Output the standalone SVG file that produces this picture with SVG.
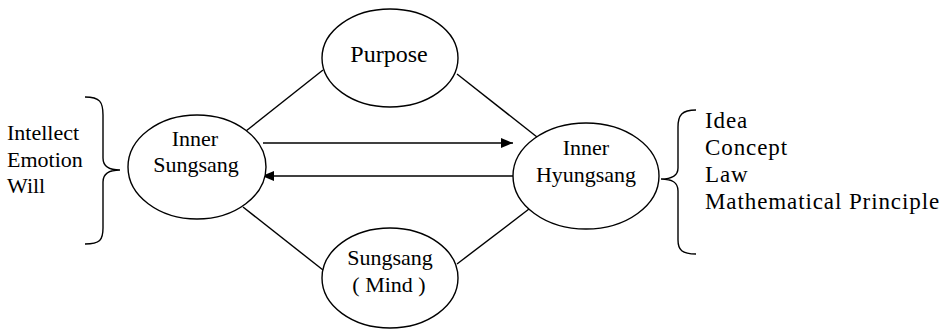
<svg xmlns="http://www.w3.org/2000/svg" width="942" height="331" viewBox="0 0 942 331">
<style>
.n{fill:#fff;stroke:#000;stroke-width:1.4}
.c{stroke:#000;stroke-width:1.4;fill:none}
.t{font-family:"Liberation Serif","Times New Roman",serif;font-size:22px;fill:#000}
.m{text-anchor:middle}
.r{font-size:23px;letter-spacing:0.9px}
</style>
<defs>
<marker id="ah" viewBox="0 0 12 10" refX="12" refY="5" markerWidth="12" markerHeight="10" markerUnits="userSpaceOnUse" orient="auto">
<path d="M0,0 L12,5 L0,10 Z" fill="#000"/>
</marker>
</defs>
<rect width="942" height="331" fill="#fff"/>
<g id="connectors">
<line class="c" x1="246" y1="131" x2="323" y2="70"/>
<line class="c" x1="457" y1="74" x2="537" y2="137"/>
<line class="c" x1="243" y1="207" x2="323" y2="270"/>
<line class="c" x1="457" y1="264" x2="529" y2="209"/>
<line class="c" x1="263" y1="143" x2="513" y2="143" marker-end="url(#ah)"/>
<line class="c" x1="513" y1="176" x2="262" y2="176" marker-end="url(#ah)"/>
</g>
<g id="purpose">
<ellipse class="n" cx="390" cy="58" rx="68" ry="49"/>
<text class="t m" x="389" y="62" style="font-size:24px">Purpose</text>
</g>
<g id="inner-sungsang">
<ellipse class="n" cx="197" cy="167" rx="69" ry="52"/>
<text class="t m" x="195" y="146">Inner</text>
<text class="t m" x="196" y="172">Sungsang</text>
</g>
<g id="inner-hyungsang">
<ellipse class="n" cx="586" cy="176" rx="73" ry="53"/>
<text class="t m" x="586" y="155">Inner</text>
<text class="t m" x="586" y="182">Hyungsang</text>
</g>
<g id="sungsang-mind">
<ellipse class="n" cx="390" cy="278" rx="68" ry="50"/>
<text class="t m" x="390" y="265">Sungsang</text>
<text class="t m" x="389" y="292">( Mind )</text>
</g>
<g id="left-brace">
<path class="c" d="M85,97 C100,97 103,102 103,115 L103,158 C103,167 110,170 120,170 C110,170 103,173 103,182 L103,228 C103,240 100,244 85,244"/>
<text class="t" x="7" y="140">Intellect</text>
<text class="t" x="7" y="167">Emotion</text>
<text class="t" x="7" y="193">Will</text>
</g>
<g id="right-brace">
<path class="c" d="M696,110 C682,110 678,115 678,127 L678,168 C678,176 672,179 661,179 C672,179 678,182 678,191 L678,240 C678,250 682,254 696,254"/>
<text class="t r" x="705" y="128">Idea</text>
<text class="t r" x="705" y="155">Concept</text>
<text class="t r" x="705" y="182">Law</text>
<text class="t r" x="705" y="209">Mathematical Principle</text>
</g>
</svg>
